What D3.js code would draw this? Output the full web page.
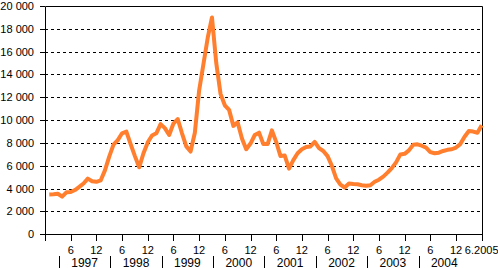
<!DOCTYPE html>
<html>
<head>
<meta charset="utf-8">
<script src="https://cdn.jsdelivr.net/npm/d3@7"></script>
<style>
  body { margin: 0; background: #fff; }
  text { font-family: "Liberation Sans", Arial, sans-serif; fill: #000; }
</style>
</head>
<body>
<script>
var w = 498,
  h = 268;

// monthly values, 1/1997 .. 6/2005
var values = [
  3480, 3500, 3550, 3300, 3680, 3700, 3880, 4150, 4450, 4880, 4650, 4600,
  4720, 5600, 6800, 7850, 8250, 8850, 9000, 7900, 6850, 5870, 7100, 8050,
  8650, 8850, 9650, 9300, 8700, 9700, 10100, 8850, 7700, 7250, 8900, 12600,
  14900, 17200, 19000, 15000, 12300, 11300, 10900, 9500, 9800, 8400, 7450, 7950,
  8700, 8900, 7900, 7900, 9100, 8100, 6850, 6900, 5750, 6500, 7100, 7450,
  7650, 7700, 8100, 7550, 7300, 6850, 6000, 4900, 4350, 4100, 4450, 4400,
  4380, 4300, 4250, 4300, 4600, 4780, 5050, 5400, 5800, 6300, 7000, 7050,
  7350, 7850, 7880, 7760, 7600, 7200, 7100, 7150, 7300, 7400, 7450, 7600,
  7900, 8550, 9050, 9000, 8900, 9550
];

var years = ['1997', '1998', '1999', '2000', '2001', '2002', '2003', '2004'];
var yTicks = [0, 2000, 4000, 6000, 8000, 10000, 12000, 14000, 16000, 18000, 20000];
var xTickLabels = ['6', '12', '6', '12', '6', '12', '6', '12', '6', '12',
  '6', '12', '6', '12', '6', '12', '6.2005'];

var svg = d3.select('body').append('svg')
  .attr('width', w)
  .attr('height', h);

var x = d3.scaleLinear()
  .domain([0, values.length])
  .range([45, 481.7]);

var y = d3.scaleLinear()
  .domain([0, 20000])
  .range([234.3, 6]);

var fmt = d3.formatLocale({ decimal: ',', thousands: ' ', grouping: [3], currency: ['', ''] }).format(',');

// gridlines
svg.selectAll('.grid')
  .data(yTicks.filter(function (d) { return d > 0 && d < 20000; }))
  .enter().append('line')
  .attr('class', 'grid')
  .attr('x1', x(0))
  .attr('x2', x(values.length))
  .attr('y1', function (d) { return Math.round(y(d)) + 0.5; })
  .attr('y2', function (d) { return Math.round(y(d)) + 0.5; })
  .attr('stroke', '#000')
  .attr('stroke-dasharray', '3,3');

// frame
svg.append('path')
  .attr('d', 'M' + (Math.round(x(0)) + 0.5) + ',' + (Math.round(y(0)) + 0.5) +
    'V' + (Math.round(y(20000)) + 0.5) +
    'H' + (Math.round(x(values.length)) + 0.5) +
    'V' + (Math.round(y(0)) + 0.5) + 'Z')
  .attr('fill', 'none')
  .attr('stroke', '#000');

// y ticks + labels
svg.selectAll('.ytick')
  .data(yTicks)
  .enter().append('line')
  .attr('class', 'ytick')
  .attr('x1', Math.round(x(0)) - 5)
  .attr('x2', Math.round(x(0)))
  .attr('y1', function (d) { return Math.round(y(d)) + 0.5; })
  .attr('y2', function (d) { return Math.round(y(d)) + 0.5; })
  .attr('stroke', '#000');

svg.selectAll('.ylabel')
  .data(yTicks)
  .enter().append('text')
  .attr('class', 'ylabel')
  .attr('x', 34)
  .attr('y', function (d) { return y(d) + 4; })
  .attr('text-anchor', 'end')
  .style('font-size', '11px')
  .text(function (d) { return fmt(d); });

// x ticks every 6 months
var xTicks = d3.range(0, values.length + 1, 6);
svg.selectAll('.xtick')
  .data(xTicks)
  .enter().append('line')
  .attr('class', 'xtick')
  .attr('x1', function (d) { return Math.round(x(d)) + 0.5; })
  .attr('x2', function (d) { return Math.round(x(d)) + 0.5; })
  .attr('y1', Math.round(y(0)))
  .attr('y2', Math.round(y(0)) + 7)
  .attr('stroke', '#000');

svg.selectAll('.xlabel')
  .data(xTickLabels)
  .enter().append('text')
  .attr('class', 'xlabel')
  .attr('x', function (d, i) { return x((i + 1) * 6); })
  .attr('y', 254)
  .attr('text-anchor', 'middle')
  .style('font-size', '11px')
  .text(function (d) { return d; });

// year row
svg.selectAll('.ysep')
  .data(years)
  .enter().append('line')
  .attr('class', 'ysep')
  .attr('x1', function (d, i) { return Math.round(x(3.25 + i * 12)) + 0.5; })
  .attr('x2', function (d, i) { return Math.round(x(3.25 + i * 12)) + 0.5; })
  .attr('y1', 256)
  .attr('y2', 268)
  .attr('stroke', '#000');

svg.selectAll('.year')
  .data(years)
  .enter().append('text')
  .attr('class', 'year')
  .attr('x', function (d, i) { return x(9.25 + i * 12); })
  .attr('y', 266.5)
  .attr('text-anchor', 'middle')
  .style('font-size', '12px')
  .text(function (d) { return d; });

// series
var line = d3.line()
  .x(function (d, i) { return x(i + 1); })
  .y(function (d) { return y(d); });

svg.append('path')
  .datum(values)
  .attr('d', line)
  .attr('fill', 'none')
  .attr('stroke', '#ff7f2f')
  .attr('stroke-width', 4)
  .attr('stroke-linejoin', 'round');
</script>
</body>
</html>
